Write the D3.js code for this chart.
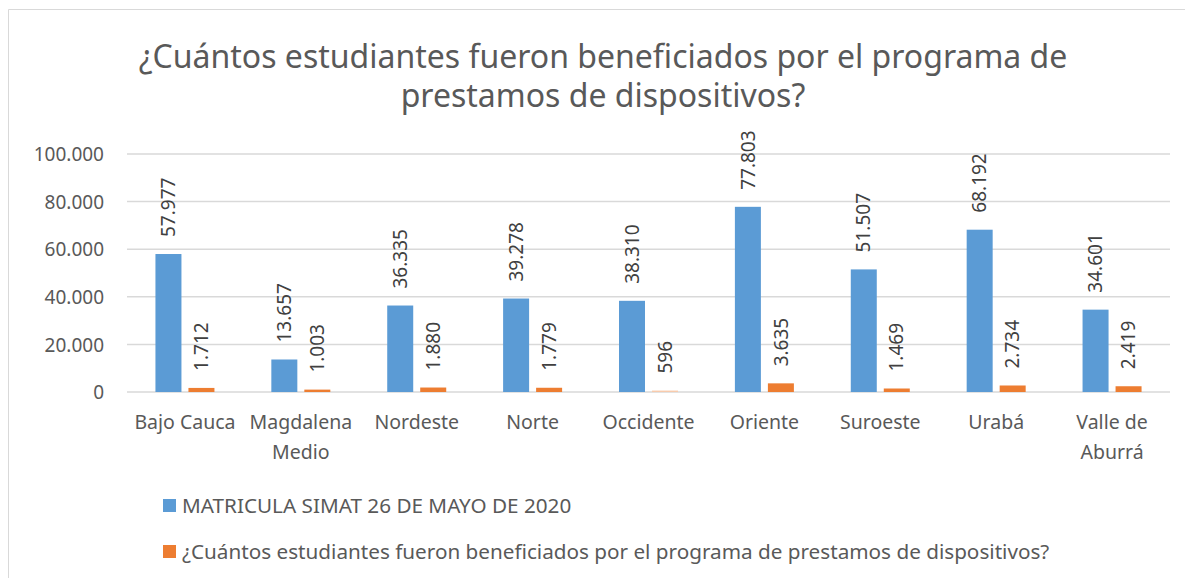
<!DOCTYPE html>
<html>
<head>
<meta charset="utf-8">
<script src="https://cdn.jsdelivr.net/npm/d3@7"></script>
<style>
  body { margin: 0; background: #fff; }
  svg text { font-family: "Noto Sans", "DejaVu Sans", sans-serif; }
</style>
</head>
<body>
<div id="chart"></div>
<script>
// data
var categories = ["Bajo Cauca", "Magdalena Medio", "Nordeste", "Norte", "Occidente",
                  "Oriente", "Suroeste", "Urabá", "Valle de Aburrá"];
var matricula = [57977, 13657, 36335, 39278, 38310, 77803, 51507, 68192, 34601];
var beneficiados = [1712, 1003, 1880, 1779, 596, 3635, 1469, 2734, 2419];
var seriesNames = ["MATRICULA SIMAT 26 DE MAYO DE 2020",
                   "¿Cuántos estudiantes fueron beneficiados por el programa de prestamos de dispositivos?"];
var yTicks = [0, 20000, 40000, 60000, 80000, 100000];
var titleLines = ["¿Cuántos estudiantes fueron beneficiados por el programa de",
                  "prestamos de dispositivos?"];

var width = 1185, height = 578;
var margin = {left: 127, right: 15, top: 154, bottom: 186};

var loc = d3.formatLocale({decimal: ",", thousands: ".", grouping: [3], currency: ["", ""]});
var fmt = loc.format(",d");

var svg = d3.select("#chart").append("svg")
  .attr("width", width)
  .attr("height", height);

// chart border
svg.append("path")
  .attr("d", "M8.5," + height + "V9.5H" + width)
  .attr("fill", "none")
  .attr("stroke", "#d9d9d9")
  .attr("stroke-width", 1);

// title
svg.append("g").selectAll("text")
  .data(titleLines)
  .enter().append("text")
  .attr("x", 603)
  .attr("y", function(d, i) { return 68 + i * 39; })
  .attr("text-anchor", "middle")
  .attr("font-size", 32)
  .attr("fill", "#595959")
  .text(function(d) { return d; });

var x = d3.scaleBand()
  .domain(categories)
  .range([margin.left, width - margin.right]);

var y = d3.scaleLinear()
  .domain([0, 100000])
  .range([height - margin.bottom, margin.top]);

// gridlines
svg.append("g")
  .attr("class", "grid")
  .selectAll("line")
  .data(yTicks)
  .enter().append("line")
  .attr("x1", margin.left)
  .attr("x2", width - margin.right)
  .attr("y1", function(d) { return y(d); })
  .attr("y2", function(d) { return y(d); })
  .attr("stroke", "#d9d9d9")
  .attr("stroke-width", 1.5);

// y axis labels
var yAxis = d3.axisLeft(y).tickValues(yTicks).tickFormat(fmt).tickSize(0).tickPadding(0);
var gy = svg.append("g")
  .attr("transform", "translate(" + 104 + ",0)")
  .call(yAxis);
gy.select(".domain").remove();
gy.selectAll("text")
  .attr("font-size", 19)
  .attr("fill", "#595959")
  .attr("dy", "0.35em");

// x axis labels
var xAxis = d3.axisBottom(x).tickSize(0).tickPadding(0);
var gx = svg.append("g")
  .attr("transform", "translate(0," + (height - margin.bottom) + ")")
  .call(xAxis);
gx.select(".domain").remove();
gx.selectAll("text")
  .attr("font-size", 19.5)
  .attr("fill", "#595959")
  .attr("y", 37)
  .attr("dy", 0)
  .each(function(d) {
    var t = d3.select(this);
    var words = d.split(" ");
    if (t.node().getComputedTextLength() <= x.bandwidth() - 4) return;
    // wrap into two lines
    var half = Math.ceil(words.length / 2);
    var lines = [words.slice(0, half).join(" "), words.slice(half).join(" ")];
    t.text(null);
    lines.forEach(function(l, i) {
      t.append("tspan").attr("x", 0).attr("dy", i === 0 ? 0 : 30).text(l);
    });
  });

var barW = 26, gap = 7;
var series = [
  {name: seriesNames[0], values: matricula, color: "#5b9bd5", off: -gap / 2 - barW},
  {name: seriesNames[1], values: beneficiados, color: "#ed7d31", off: gap / 2}
];
// one faded point as in the picture
var fadedColor = {"Occidente": "#f8cbad"};

series.forEach(function(s, si) {
  var g = svg.append("g");
  g.selectAll("rect")
    .data(s.values)
    .enter().append("rect")
    .attr("x", function(d, i) { return x(categories[i]) + x.bandwidth() / 2 + s.off; })
    .attr("y", function(d) { return y(d); })
    .attr("width", barW)
    .attr("height", function(d) { return y(0) - y(d); })
    .attr("fill", function(d, i) {
      return (si === 1 && fadedColor[categories[i]]) ? fadedColor[categories[i]] : s.color;
    });

  g.selectAll("text")
    .data(s.values)
    .enter().append("text")
    .attr("transform", function(d, i) {
      var cx = x(categories[i]) + x.bandwidth() / 2 + s.off + barW / 2;
      return "translate(" + cx + "," + (y(d) - 17) + ") rotate(-90)";
    })
    .attr("dy", "0.35em")
    .attr("text-anchor", "start")
    .attr("font-size", 19)
    .attr("fill", "#404040")
    .text(function(d) { return fmt(d); });
});

// legend
var legend = svg.append("g").selectAll("g")
  .data(series)
  .enter().append("g")
  .attr("transform", function(d, i) { return "translate(163," + (506 + i * 46) + ")"; });
legend.append("rect")
  .attr("x", 0).attr("y", -7)
  .attr("width", 13).attr("height", 13)
  .attr("fill", function(d) { return d.color; });
legend.append("text")
  .attr("x", 19)
  .attr("dy", "0.35em")
  .attr("font-size", 20.7)
  .attr("fill", "#595959")
  .text(function(d) { return d.name; });
</script>
</body>
</html>
